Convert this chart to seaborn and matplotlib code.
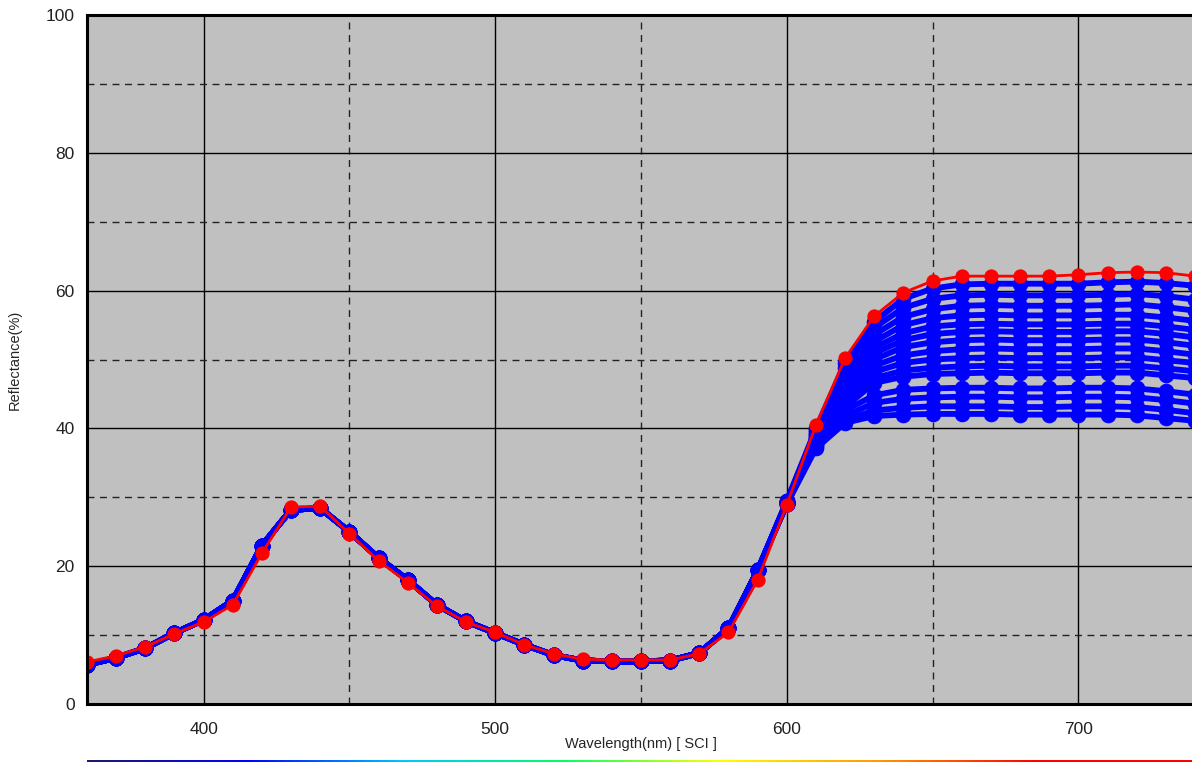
import numpy as np
import pandas as pd
import matplotlib
matplotlib.use("Agg")
import matplotlib.pyplot as plt
from matplotlib.colors import LinearSegmentedColormap
from matplotlib.ticker import MultipleLocator
import seaborn as sns

# wavelengths (nm), one point every 10 nm
wl_short = list(range(360, 600, 10))
wl_long = list(range(600, 750, 10))
wavelengths = wl_short + wl_long

# red (reference) curve
red_refl = [6.1, 7.0, 8.3, 10.2, 11.9, 14.4, 21.9, 28.6, 28.7, 24.7, 20.8, 17.6,
            14.2, 11.9, 10.4, 8.6, 7.3, 6.5, 6.4, 6.4, 6.4, 7.3, 10.4, 18.0,
            28.9, 40.5, 50.2, 56.3, 59.7, 61.4, 62.1, 62.1, 62.1, 62.1, 62.3,
            62.6, 62.7, 62.6, 62.1]

# blue curves: shared part below 600 nm
blue_short = [5.7, 6.7, 8.1, 10.3, 12.2, 15.0, 23.0, 28.2, 28.4, 25.0, 21.2, 18.0,
              14.4, 12.0, 10.3, 8.6, 7.1, 6.3, 6.2, 6.2, 6.3, 7.4, 11.0, 19.4]

# blue curves: 600..740 nm, one row per sample
blue_long = [
    [29.5, 40.0, 49.5, 55.5, 58.8, 60.3, 60.9, 61.0, 61.0, 61.0, 61.0, 61.2, 61.3, 61.1, 60.7],
    [29.4, 39.8, 48.8, 54.6, 57.5, 58.8, 59.3, 59.4, 59.3, 59.3, 59.3, 59.4, 59.5, 59.2, 58.7],
    [29.4, 39.5, 48.0, 53.6, 56.2, 57.3, 57.8, 57.9, 57.8, 57.8, 57.8, 57.9, 58.0, 57.6, 57.1],
    [29.3, 39.2, 47.3, 52.6, 55.0, 56.0, 56.4, 56.5, 56.4, 56.4, 56.4, 56.5, 56.5, 56.1, 55.6],
    [29.3, 39.0, 46.6, 51.7, 53.8, 54.8, 55.1, 55.2, 55.1, 55.1, 55.1, 55.2, 55.2, 54.8, 54.3],
    [29.2, 38.8, 46.0, 50.9, 52.8, 53.7, 54.0, 54.1, 54.0, 54.0, 54.0, 54.1, 54.1, 53.7, 53.2],
    [29.2, 38.6, 45.4, 50.0, 51.8, 52.5, 52.8, 52.9, 52.8, 52.8, 52.8, 52.9, 52.9, 52.5, 52.0],
    [29.1, 38.4, 44.8, 49.1, 50.6, 51.2, 51.5, 51.6, 51.5, 51.5, 51.5, 51.6, 51.6, 51.2, 50.7],
    [29.1, 38.2, 44.2, 48.2, 49.5, 50.0, 50.2, 50.3, 50.2, 50.2, 50.2, 50.3, 50.3, 49.9, 49.5],
    [29.0, 38.0, 43.6, 47.3, 48.4, 48.8, 49.0, 49.1, 49.0, 49.0, 49.0, 49.1, 49.1, 48.7, 48.3],
    [29.0, 37.8, 43.1, 46.6, 47.5, 47.9, 48.0, 48.1, 48.0, 48.0, 48.0, 48.1, 48.1, 47.7, 47.3],
    [29.3, 38.0, 42.6, 44.8, 45.6, 45.8, 45.9, 45.9, 45.8, 45.8, 45.9, 45.9, 45.8, 45.4, 44.9],
    [29.2, 37.7, 41.8, 43.7, 44.3, 44.5, 44.6, 44.6, 44.5, 44.5, 44.6, 44.6, 44.5, 44.1, 43.6],
    [29.1, 37.4, 41.2, 42.6, 43.0, 43.2, 43.2, 43.2, 43.1, 43.1, 43.2, 43.2, 43.1, 42.7, 42.2],
    [29.0, 37.1, 40.8, 41.8, 42.0, 42.1, 42.1, 42.1, 42.0, 42.0, 42.0, 42.0, 41.9, 41.5, 41.1],
]

spectrum_colors = ["#1a1a6e", "#0000ff", "#00c8ff", "#00ff66", "#ffff00",
                   "#ff9900", "#ff0000", "#ff0000"]

sns.set_style("white")
plt.rcParams['font.family'] = ['Liberation Sans', 'DejaVu Sans']

fig = plt.figure(figsize=(11.92, 7.64), dpi=100)
ax = fig.add_axes([87 / 1192, 60 / 764, (1195 - 87) / 1192, 689 / 764])
ax.set_facecolor("#c0c0c0")

rows = []
for i, row in enumerate(blue_long):
    for w, r in zip(wavelengths, blue_short + row):
        rows.append({"wavelength": w, "reflectance": r, "sample": f"s{i}"})
blue_df = pd.DataFrame(rows)

sns.lineplot(data=blue_df, x="wavelength", y="reflectance", units="sample",
             estimator=None, color="#0000ff", marker="o", markersize=10.5,
             markeredgecolor="#0000ff", linewidth=4.2, ax=ax, zorder=3)
sns.lineplot(x=wavelengths, y=red_refl, color="#ff0000", marker="o",
             markersize=9.5, markeredgecolor="#ff0000", linewidth=2, ax=ax, zorder=4)

ax.set_xlim(360, 740)
ax.set_ylim(0, 100)
ax.xaxis.set_major_locator(MultipleLocator(100))
ax.xaxis.set_minor_locator(MultipleLocator(50))
ax.yaxis.set_major_locator(MultipleLocator(20))
ax.yaxis.set_minor_locator(MultipleLocator(10))

ax.grid(which="major", color="black", linewidth=1.0, linestyle="-", zorder=1)
ax.grid(which="minor", color="#222222", linewidth=1.0, linestyle=(0, (5, 4)), zorder=1)
ax.set_axisbelow(True)

for side in ["left", "bottom", "top"]:
    ax.spines[side].set_color("black")
    ax.spines[side].set_linewidth(2.2)
    ax.spines[side].set_zorder(5)
ax.spines["right"].set_visible(False)

ax.tick_params(which="major", axis="both", direction="out", length=7, width=1,
               labelsize=12.5, color="black", labelcolor="#222222")
ax.tick_params(which="minor", axis="both", direction="out", length=6, width=1)
ax.tick_params(which="both", axis="x", length=11)
ax.tick_params(axis="y", pad=2)
ax.tick_params(axis="x", pad=2)
ax.set_xlabel("Wavelength(nm) [ SCI ]", fontsize=10.5, labelpad=0)
ax.set_ylabel("Reflectance(%)", fontsize=10.5, labelpad=17)

# spectrum strip below the axis
cax = fig.add_axes([87 / 1192, 2 / 764, (1195 - 87) / 1192, 2.5 / 764])
cmap = LinearSegmentedColormap.from_list("spec", spectrum_colors)
cax.imshow(np.linspace(0, 1, 512)[None, :], aspect="auto", cmap=cmap)
cax.set_axis_off()

fig.savefig("out.png", dpi=100)
